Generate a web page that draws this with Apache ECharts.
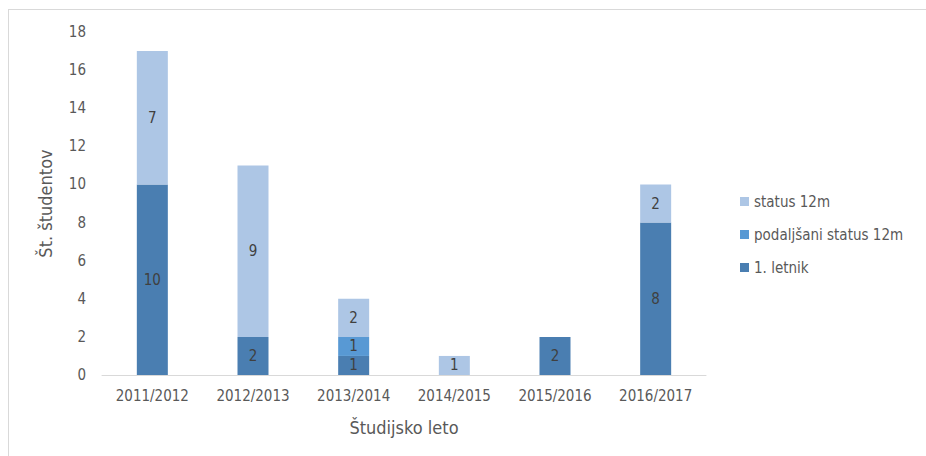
<!DOCTYPE html>
<html>
<head>
<meta charset="utf-8">
<script src="https://cdn.jsdelivr.net/npm/echarts@6/dist/echarts.min.js"></script>
<style>
  html, body { margin: 0; padding: 0; background: #fff; }
  #frame { position: absolute; left: 8px; top: 9px; width: 940px; height: 460px;
           border-top: 1px solid #d9d9d9; border-left: 1px solid #d9d9d9; }
  #chart { position: absolute; left: 0; top: 0; width: 926px; height: 456px; }
</style>
</head>
<body>
<div id="frame"></div>
<div id="chart"></div>
<script>
const YEARS = ["2011/2012", "2012/2013", "2013/2014", "2014/2015", "2015/2016", "2016/2017"];
const FIRST_YEAR = [10, 2, 1, 0, 2, 8];
const EXTENDED_STATUS = [0, 0, 1, 0, 0, 0];
const STATUS_12M = [7, 9, 2, 1, 0, 2];

const FONT = "'Liberation Sans Narrow', 'DejaVu Sans Condensed', sans-serif";
const TEXT_COLOR = "#595959";

const chart = echarts.init(document.getElementById("chart"), undefined, { renderer: "svg" });

const hideZero = (p) => (p.value ? String(p.value) : "");

function barSeries(name, data, color) {
  return {
    name,
    type: "bar",
    stack: "total",
    barWidth: 31,
    data,
    itemStyle: { color },
    label: {
      show: true,
      position: "inside",
      formatter: hideZero,
      color: "#404040",
      fontFamily: FONT,
      fontSize: 15,
    },
  };
}

chart.setOption({
  animation: false,
  textStyle: { fontFamily: FONT },
  grid: { left: 102, right: 220, top: 32, bottom: 81 },
  legend: {
    orient: "vertical",
    left: 735,
    top: 189,
    itemWidth: 9,
    itemHeight: 9,
    itemGap: 18,
    icon: "rect",
    data: ["status 12m", "podaljšani status 12m", "1. letnik"],
    textStyle: { color: TEXT_COLOR, fontSize: 15, fontFamily: FONT },
  },
  xAxis: {
    type: "category",
    data: YEARS,
    name: "Študijsko leto",
    nameLocation: "middle",
    nameGap: 43,
    nameTextStyle: { color: TEXT_COLOR, fontSize: 18, fontFamily: FONT },
    axisLine: { lineStyle: { color: "#d9d9d9", width: 1 } },
    axisTick: { show: false },
    axisLabel: { color: TEXT_COLOR, fontSize: 15, margin: 13, fontFamily: FONT },
  },
  yAxis: {
    type: "value",
    min: 0,
    max: 18,
    interval: 2,
    name: "Št. študentov",
    nameLocation: "middle",
    nameGap: 48,
    nameTextStyle: { color: TEXT_COLOR, fontSize: 18, fontFamily: FONT },
    axisLine: { show: false },
    axisTick: { show: false },
    splitLine: { show: false },
    axisLabel: { color: TEXT_COLOR, fontSize: 15, margin: 16, fontFamily: FONT },
  },
  series: [
    barSeries("1. letnik", FIRST_YEAR, "#4a7eb1"),
    barSeries("podaljšani status 12m", EXTENDED_STATUS, "#5899d4"),
    barSeries("status 12m", STATUS_12M, "#adc6e5"),
  ],
});
</script>
</body>
</html>
